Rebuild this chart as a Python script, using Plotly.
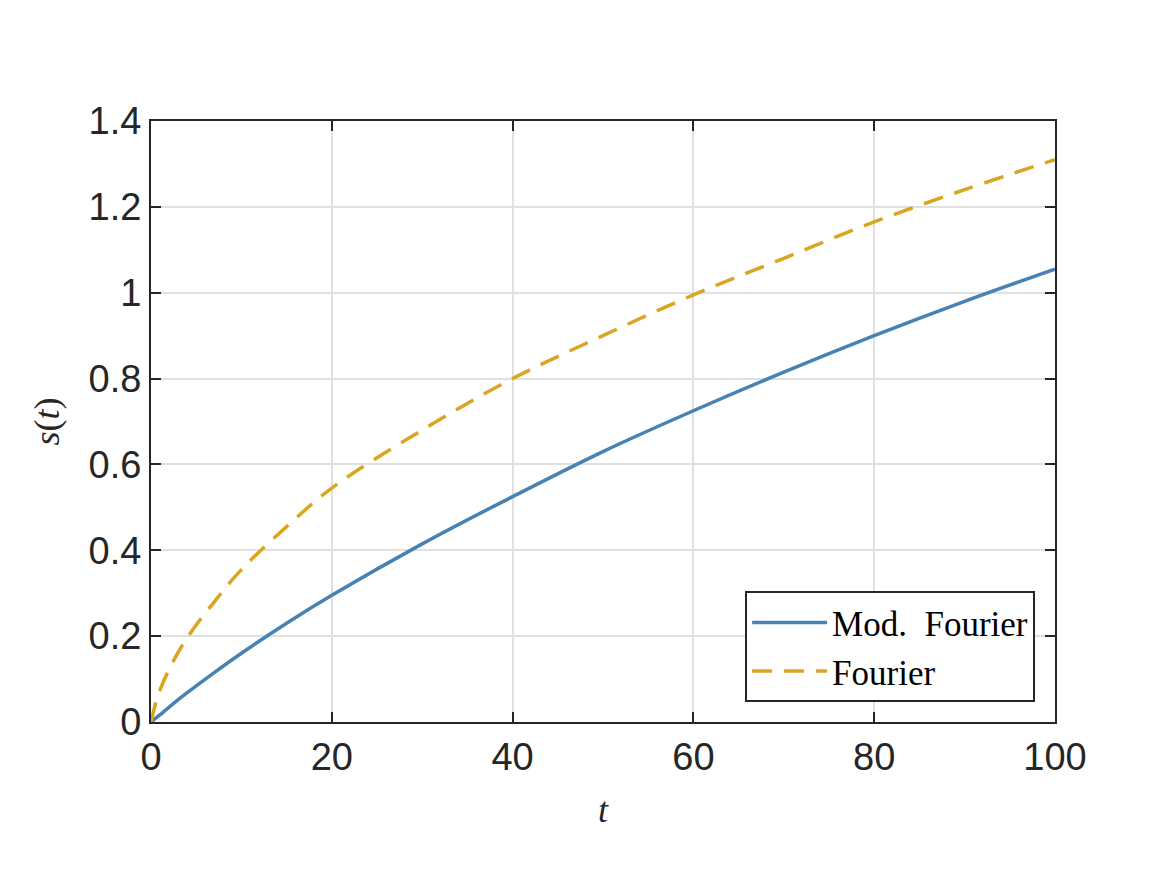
import plotly.graph_objects as go

t_vals = [0, 1, 3.5, 7, 10, 15, 20, 30, 40, 50, 60, 70, 80, 90, 100]
mod_fourier = [0, 0.017, 0.06, 0.115, 0.16, 0.23, 0.295, 0.415, 0.525, 0.63, 0.725, 0.815, 0.90, 0.98, 1.055]
fourier = [0, 0.075, 0.18, 0.28, 0.355, 0.455, 0.545, 0.68, 0.80, 0.90, 0.995, 1.08, 1.165, 1.24, 1.31]

x_ticks = [0, 20, 40, 60, 80, 100]
y_ticks = [0, 0.2, 0.4, 0.6, 0.8, 1.0, 1.2, 1.4]
y_tick_text = ["0", "0.2", "0.4", "0.6", "0.8", "1", "1.2", "1.4"]

fig = go.Figure()
fig.add_trace(go.Scatter(x=t_vals, y=mod_fourier, mode="lines", name="Mod.  Fourier",
                         line=dict(color="#4682B4", width=3.5, shape="spline")))
fig.add_trace(go.Scatter(x=t_vals, y=fourier, mode="lines", name="Fourier",
                         line=dict(color="#DAA520", width=3.5, dash="20px,12px", shape="spline")))

axis_common = dict(
    showline=True, linecolor="#262626", linewidth=2, mirror="ticks",
    ticks="inside", ticklen=10, tickwidth=2, tickcolor="#262626",
    showgrid=True, gridcolor="#E0E0E0", gridwidth=2, zeroline=False,
    tickfont=dict(family="Liberation Sans, Arial, sans-serif", size=38, color="#262626"),
)

fig.update_layout(
    width=1167, height=875,
    margin=dict(l=151, r=112, t=121, b=153),
    paper_bgcolor="white", plot_bgcolor="white",
    xaxis=dict(range=[0, 100], tickvals=x_ticks, **axis_common,
               title=dict(text="<i>t</i>", font=dict(family="Liberation Serif, serif", size=36, color="#262626"), standoff=20)),
    yaxis=dict(range=[0, 1.4], tickvals=y_ticks, ticktext=y_tick_text, **axis_common,
               title=dict(text="<i>s</i>(<i>t</i>)", font=dict(family="Liberation Serif, serif", size=36, color="#262626"), standoff=18)),
    legend=dict(x=0.978, y=0.033, xanchor="right", yanchor="bottom",
                bgcolor="white", bordercolor="#262626", borderwidth=2,
                font=dict(family="Liberation Serif, serif", size=35, color="black"),
                itemwidth=75, tracegroupgap=0),
    showlegend=True,
)

fig.write_html("out.html")
